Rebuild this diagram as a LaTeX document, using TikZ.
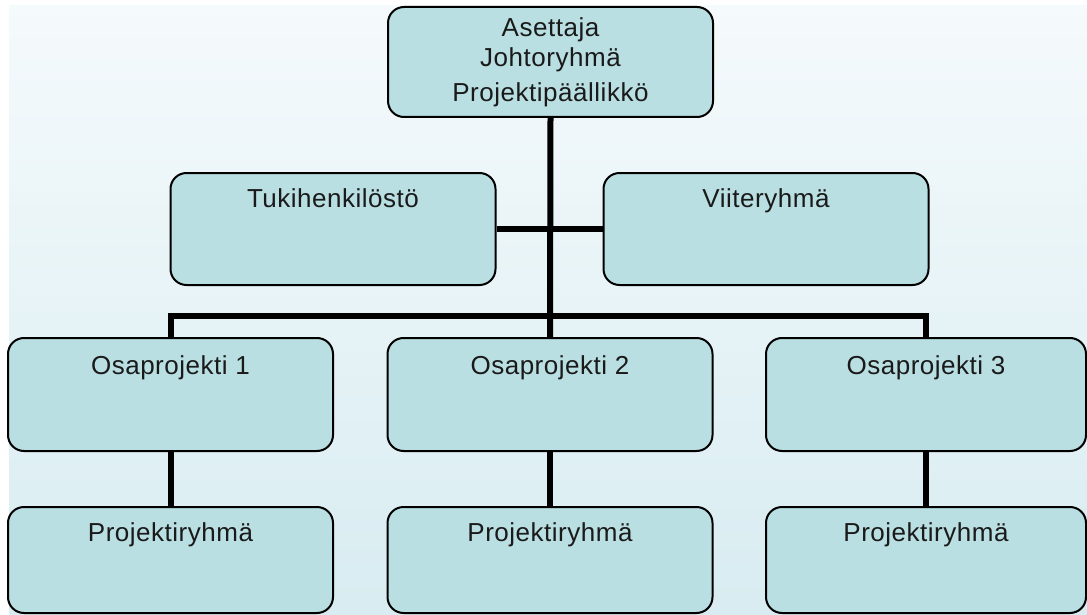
\documentclass[tikz,border=0pt]{standalone}
\usepackage{fontspec}
\setmainfont{Liberation Sans}[LetterSpace=2]
\definecolor{boxfill}{HTML}{B9DFE2}
\definecolor{bgtop}{HTML}{F5FAFC}
\definecolor{bgbot}{HTML}{D8ECF1}
\definecolor{txtcol}{HTML}{1A1A1A}
\begin{document}
\begin{tikzpicture}[x=1pt,y=-1pt,
  box/.style={draw=black, line width=2pt, fill=boxfill, rounded corners=16pt,
    minimum width=325pt, minimum height=111pt, inner sep=0pt},
  smallbox/.style={box, minimum height=112pt},
  txt/.style={anchor=base, text=txtcol, font=\fontsize{26}{30}\selectfont, inner sep=0pt},
  conn/.style={draw=black, line width=6pt}]
\useasboundingbox (0,0) rectangle (1087,615);
\shade[top color=bgtop, bottom color=bgbot] (9,6) rectangle (1087,615);
% boxes
\node[box, minimum height=110pt] (b0) at (550.5,62) {};
\node[smallbox] (tuki) at (333,229) {};
\node[smallbox] (viite) at (766,229) {};
\node[box, minimum height=113pt] (o1) at (170.5,394.5) {};
\node[box, minimum height=113pt] (o2) at (550,394.5) {};
\node[box, minimum height=113pt, minimum width=320pt] (o3) at (926,394.5) {};
\node[box, minimum height=106pt] (p1) at (170.5,560) {};
\node[box, minimum height=106pt] (p2) at (550,560) {};
\node[box, minimum height=106pt, minimum width=320pt] (p3) at (926,560) {};
% connectors
\coordinate (bar) at (550,316);
\draw[conn] (b0.south) -- (o2.north);
\draw[conn] (tuki.east) -- (viite.west);
\draw[conn] (o1.north) |- (bar) -| (o3.north);
\draw[conn] (o1.south) -- (p1.north);
\draw[conn] (o2.south) -- (p2.north);
\draw[conn] (o3.south) -- (p3.north);
% texts
\node[txt] (t0a) at ([yshift=-31pt]b0.north) {Asettaja};
\node[txt] (t0b) at ([yshift=-61pt]b0.north) {Johtoryhmä};
\node[txt] (t0c) at ([yshift=-96pt]b0.north) {Projektipäällikkö};
\node[txt] (ttuki) at ([yshift=-35pt]tuki.north) {Tukihenkilöstö};
\node[txt] (tviite) at ([yshift=-35pt]viite.north) {Viiteryhmä};
\node[txt] (to1) at ([yshift=-37pt]o1.north) {Osaprojekti 1};
\node[txt] (to2) at ([yshift=-37pt]o2.north) {Osaprojekti 2};
\node[txt] (to3) at ([yshift=-37pt]o3.north) {Osaprojekti 3};
\node[txt] (tp1) at ([yshift=-35pt]p1.north) {Projektiryhmä};
\node[txt] (tp2) at ([yshift=-35pt]p2.north) {Projektiryhmä};
\node[txt] (tp3) at ([yshift=-35pt]p3.north) {Projektiryhmä};
\end{tikzpicture}
\end{document}
